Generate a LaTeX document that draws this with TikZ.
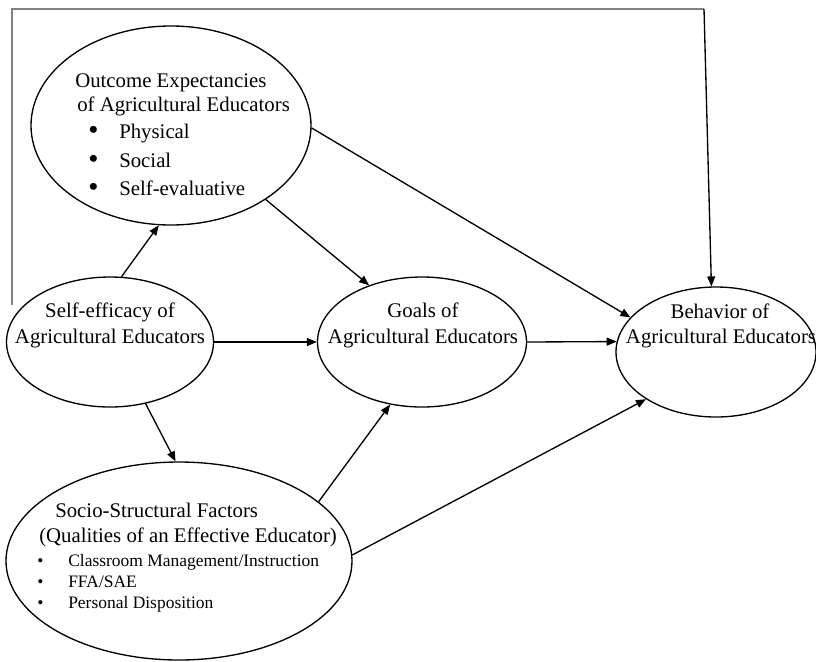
\documentclass[tikz,border=0pt]{standalone}
\usepackage{fontspec}
\setmainfont{Liberation Serif}
\usetikzlibrary{shapes.geometric}
\usetikzlibrary{arrows.meta}
\tikzset{oval/.style = {draw, ellipse, line width=1pt, inner sep=0pt}}
\tikzset{link/.style = {line width=1pt,
                        -{Triangle[length=7.5pt, width=6pt]}}}
\tikzset{frameline/.style = {line width=1pt, draw=gray}}
\tikzset{txt/.style = {inner sep=0pt, anchor=base}}
\tikzset{txtl/.style = {inner sep=0pt, anchor=base west}}
\tikzset{small/.style = {font=\fontsize{13.1}{15}\selectfont}}
\newcommand{\bul}{\makebox[23.25pt][l]{\raisebox{-1.4pt}{\scalebox{1.4}{\textbullet}}}}
\newcommand{\sbul}{\makebox[23.25pt][l]{\textbullet}}

\begin{document}
\begin{tikzpicture}[x=0.75pt, y=-0.75pt, font=\fontsize{15.6}{18}\selectfont]

      \useasboundingbox (0,0) rectangle (816,661);

      % the five ovals
      \node[oval, minimum width=210pt,    minimum height=149.25pt] (outcome)  at (171,125.5) {};
      \node[oval, minimum width=155.25pt, minimum height=97.5pt]   (selfeff)  at (110,342)   {};
      \node[oval, minimum width=156.75pt, minimum height=97.5pt]   (goals)    at (422,342)   {};
      \node[oval, minimum width=150pt,    minimum height=97.5pt]   (behavior) at (716,352)   {};
      \node[oval, minimum width=259.5pt,  minimum height=148.5pt]  (socio)    at (179,561)   {};

      % texts
      \node[txtl] (outcomeA) at (75,87)   {Outcome Expectancies};
      \node[txtl] (outcomeB) at (77,111)  {of Agricultural Educators};
      \node[txtl] (physical) at (88,138)  {\bul Physical};
      \node[txtl] (social)   at (88,167)  {\bul Social};
      \node[txtl] (selfeval) at (88,195)  {\bul Self-evaluative};

      \node[txt] (selfeffA) at (110,317) {Self-efficacy of};
      \node[txt] (selfeffB) at (110,343) {Agricultural Educators};

      \node[txt] (goalsA) at (423,317) {Goals of};
      \node[txt] (goalsB) at (423,343) {Agricultural Educators};

      \node[txt] (behavA) at (720,318) {Behavior of};
      \node[txt] (behavB) at (721,343) {Agricultural Educators};

      \node[txtl] (socioA)    at (55,517) {Socio-Structural Factors};
      \node[txtl] (socioB)    at (39,542) {(Qualities of an Effective Educator)};
      \node[txtl, small] (classroom) at (37,566) {\sbul Classroom Management/Instruction};
      \node[txtl, small] (ffa)       at (37,587) {\sbul FFA/SAE};
      \node[txtl, small] (personal)  at (37,608) {\sbul Personal Disposition};

      % connectors
      \draw[link] (selfeff.80)  -- (outcome.263);
      \draw[link] (outcome.-38) -- (goals.133);
      \draw[link] (outcome.-1)  -- (behavior.158);
      \draw[link] (selfeff.0)   -- (goals.180);
      \draw[link] (goals.0)     -- (behavior.174);
      \draw[link] (selfeff.-60) -- (socio.92);
      \draw[link] (socio.23.5)  -- (goals.243);
      \draw[link] (socio.2)     -- (behavior.214);

      % frame line over the top
      \coordinate (fstart)  at (12,305);
      \coordinate (fleft)   at (12,9);
      \coordinate (fright)  at (704,9);
      \draw[frameline] (fstart) -- (fleft) -- (fright);
      \draw[link] (fright) -- (behavior.94);

\end{tikzpicture}
\end{document}
